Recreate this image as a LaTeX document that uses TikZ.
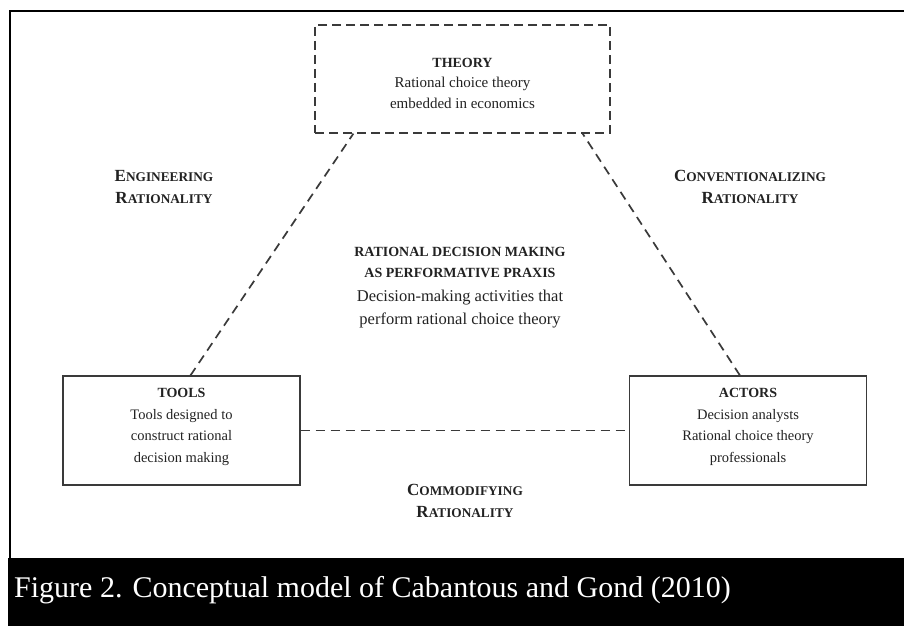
\documentclass[tikz,border=0pt]{standalone}
\usepackage{fontspec}
\setmainfont{Liberation Serif}
\usetikzlibrary{calc}
\definecolor{txt}{HTML}{222222}
\definecolor{ln}{HTML}{3A3A3A}
\newcommand{\fsc}[2]{{\fontsize{17}{20}\selectfont #1}{\fontsize{13.3}{20}\selectfont #2}}
\tikzset{
  box/.style={draw=ln, line width=1.1pt, minimum width=237pt, minimum height=109pt, inner sep=0pt},
  dbox/.style={draw=ln, line width=1.3pt, dash pattern=on 9pt off 5pt, minimum width=295pt, minimum height=108pt, inner sep=0pt},
  conn/.style={draw=ln, line width=1.7pt, dash pattern=on 9pt off 6pt},
  lbl/.style={text=txt, align=center, font=\fontsize{14.5}{21.5}\selectfont, inner sep=0pt},
  slbl/.style={text=txt, align=center, font=\bfseries\fontsize{14}{22}\selectfont, inner sep=0pt},
}
\begin{document}
\begin{tikzpicture}[x=1pt,y=-1pt]
\useasboundingbox (0,0) rectangle (904,626);
\fill[white] (0,0) rectangle (904,626);
% frame
\draw[black, line width=2.6pt] (10,559) -- (10,11) -- (904,11);
\fill[black] (8,558) rectangle (904,626);
\node[anchor=west, text=white, font=\fontsize{30}{32}\selectfont, inner sep=0pt] (cap) at (14,590) {Figure 2. Conceptual model of Cabantous and Gond (2010)};
% boxes
\node[dbox] (theory) at (462.5,79) {};
\node[box] (tools) at (181.5,430.5) {};
\node[box] (actors) at (748,430.5) {};
% box texts
\node[lbl, font=\fontsize{15}{20.5}\selectfont] (theoryt) at (462.5,83) {\textbf{\fontsize{14}{20.5}\selectfont THEORY}\\Rational choice theory\\embedded in economics};
\node[lbl] (toolst) at (181.5,427) {\textbf{\fontsize{14}{21.5}\selectfont TOOLS}\\Tools designed to\\construct rational\\decision making};
\node[lbl] (actorst) at (748,427) {\textbf{\fontsize{14}{21.5}\selectfont ACTORS}\\Decision analysts\\Rational choice theory\\professionals};
% connectors
\draw[conn] ([xshift=128pt]tools.north west) -- ([xshift=39pt]theory.south west);
\draw[conn] ([xshift=111pt]actors.north west) -- ([xshift=-28pt]theory.south east);
\draw[conn] (tools.east) -- (actors.west);
% labels
\node[slbl] (eng) at (164,187) {\fsc{E}{NGINEERING}\\\fsc{R}{ATIONALITY}};
\node[slbl] (conv) at (750,187) {\fsc{C}{ONVENTIONALIZING}\\\fsc{R}{ATIONALITY}};
\node[slbl] (comm) at (465,501) {\fsc{C}{OMMODIFYING}\\\fsc{R}{ATIONALITY}};
\node[slbl, font=\bfseries\fontsize{14}{21}\selectfont] (ratd) at (460,262) {RATIONAL DECISION MAKING\\AS PERFORMATIVE PRAXIS};
\node[lbl, font=\fontsize{16.5}{23}\selectfont] (ratdt) at (460,309) {Decision-making activities that\\perform rational choice theory};
\end{tikzpicture}
\end{document}
